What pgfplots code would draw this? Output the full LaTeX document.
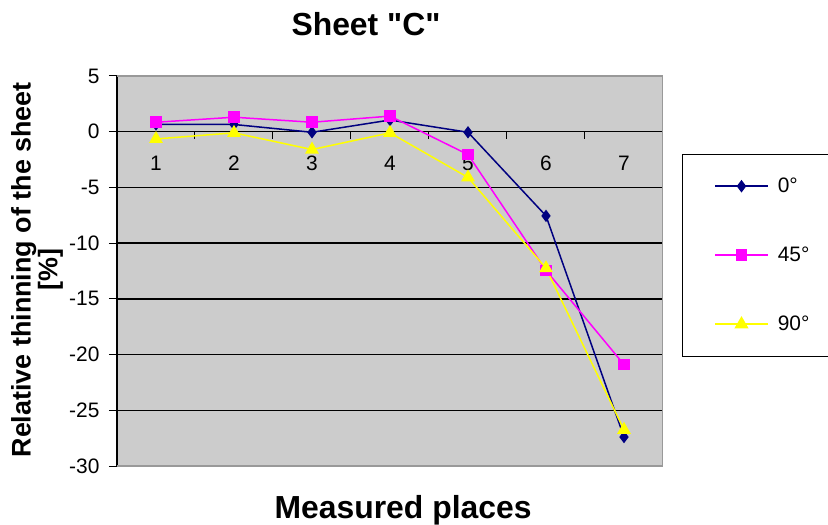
\documentclass[border=0pt]{standalone}
\usepackage{pgfplots}
\pgfplotsset{compat=1.18}
\usepackage{fontspec}
\setmainfont{Liberation Sans}
\definecolor{navyc}{HTML}{000080}
\definecolor{magc}{HTML}{FF00FF}
\definecolor{yelc}{HTML}{FFFF00}
\definecolor{bgc}{HTML}{CCCCCC}
\begin{document}
\begin{tikzpicture}
\path[use as bounding box] (-117bp,-59bp) rectangle (711bp,466bp);
\begin{axis}[
  name=ax, at={(0,0)}, anchor=south west,
  scale only axis, width=546bp, height=390bp,
  xmin=0.5, xmax=7.5, ymin=-30, ymax=5,
  axis x line=middle, axis y line=left,
  axis line style={-, black, line width=1.2bp},
  hide obscured y ticks=false, hide obscured x ticks=false,
  axis background/.style={fill=bgc},
  xtick={1,...,7},
  minor xtick={1.5,2.5,...,6.5},
  ytick={-30,-25,...,5},
  tick align=outside,
  major tick length=8bp, minor tick length=7bp,
  major x tick style={draw=none},
  tick style={black, line width=1bp},
  ymajorgrids, major grid style={black, line width=1.3bp},
  /pgf/number format/assume math mode=true,
  tick label style={font=\fontsize{21}{23}\selectfont},
  xticklabel style={yshift=-13bp},
  yticklabel style={xshift=-6bp},
  title={Sheet \textquotedbl C\textquotedbl},
  title style={at={(rel axis cs:0.456,1)}, anchor=center, yshift=46bp, font=\bfseries\fontsize{32}{36}\selectfont},
  xlabel={Measured places},
  xlabel style={at={(rel axis cs:0.524,0)}, anchor=center, yshift=-44bp, font=\bfseries\fontsize{32}{36}\selectfont},
  ylabel={Relative thinning of the sheet\\{[\%]}},
  ylabel style={at={(rel axis cs:0,0.503)}, anchor=center, rotate=0, yshift=80bp, align=center, font=\bfseries\fontsize{27}{27}\selectfont},
  legend style={at={(rel axis cs:1.0348,0.8)}, anchor=north west, draw=black, fill=white,
    inner xsep=32bp, inner ysep=22bp, row sep=49bp, column sep=9bp,
    font=\fontsize{21}{23}\selectfont, nodes={inner sep=0pt, minimum height=20bp}},
  legend cell align=left,
  legend image code/.code={%
    \draw[mark repeat=2, mark phase=2, #1] plot coordinates {(0bp,0bp) (26.5bp,0bp) (53bp,0bp)};},
  legend image post style={line width=1.6bp},
]
\addplot[draw=navyc, line width=1.5bp, mark=diamond*, mark size=5bp, mark options={draw=navyc, fill=navyc}]
  coordinates {(1,0.65) (2,0.65) (3,-0.05) (4,1.05) (5,-0.05) (6,-7.55) (7,-27.4)};
\addlegendentry{\makebox[24bp][l]{0°}}
\addplot[draw=magc, line width=1.5bp, mark=square*, mark size=5bp, mark options={draw=magc, fill=magc}]
  coordinates {(1,0.85) (2,1.3) (3,0.85) (4,1.4) (5,-2.05) (6,-12.45) (7,-20.9)};
\addlegendentry{\makebox[24bp][l]{45°}}
\addplot[draw=yelc, line width=1.5bp, mark=triangle*, mark size=6.5bp, mark options={draw=yelc, fill=yelc}]
  coordinates {(1,-0.65) (2,-0.1) (3,-1.6) (4,-0.1) (5,-4.1) (6,-12.25) (7,-26.75)};
\addlegendentry{\makebox[24bp][l]{90°}}
\draw[gray!80, line width=1.5bp] (rel axis cs:0,1) -- (rel axis cs:1,1) -- (rel axis cs:1,0) -- (rel axis cs:0,0);
\end{axis}
\end{tikzpicture}
\end{document}
